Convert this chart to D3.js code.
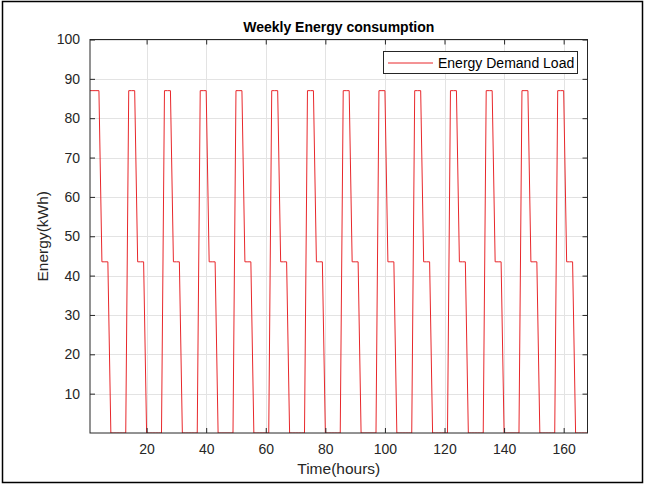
<!DOCTYPE html>
<html>
<head>
<meta charset="utf-8">
<script src="https://cdn.jsdelivr.net/npm/d3@7"></script>
<style>
  html, body { margin: 0; padding: 0; background: #fff; }
  svg { display: block; font-family: "Liberation Sans", Arial, Helvetica, sans-serif; }
</style>
</head>
<body>
<svg id="chart" width="646" height="486"></svg>
<script>
// ---- data ----
const title = "Weekly Energy consumption";
const xLabel = "Time(hours)";
const yLabel = "Energy(kWh)";
const seriesName = "Energy Demand Load";
const xTicks = [20, 40, 60, 80, 100, 120, 140, 160];
const yTicks = [10, 20, 30, 40, 50, 60, 70, 80, 90, 100];
// hourly load, hours 1..168
const load = [
  87, 87, 87, 87, 43.5, 43.5, 43.5, 0, 0, 0, 0, 0, 0,
  87, 87, 87, 43.5, 43.5, 43.5, 0, 0, 0, 0, 0, 0,
  87, 87, 87, 43.5, 43.5, 43.5, 0, 0, 0, 0, 0, 0,
  87, 87, 87, 43.5, 43.5, 43.5, 0, 0, 0, 0, 0, 0,
  87, 87, 87, 43.5, 43.5, 43.5, 0, 0, 0, 0, 0, 0,
  87, 87, 87, 43.5, 43.5, 43.5, 0, 0, 0, 0, 0, 0,
  87, 87, 87, 43.5, 43.5, 43.5, 0, 0, 0, 0, 0, 0,
  87, 87, 87, 43.5, 43.5, 43.5, 0, 0, 0, 0, 0, 0,
  87, 87, 87, 43.5, 43.5, 43.5, 0, 0, 0, 0, 0, 0,
  87, 87, 87, 43.5, 43.5, 43.5, 0, 0, 0, 0, 0, 0,
  87, 87, 87, 43.5, 43.5, 43.5, 0, 0, 0, 0, 0, 0,
  87, 87, 87, 43.5, 43.5, 43.5, 0, 0, 0, 0, 0, 0,
  87, 87, 87, 43.5, 43.5, 43.5, 0, 0, 0, 0, 0, 0,
  87, 87, 87, 43.5, 43.5, 43.5, 0, 0, 0, 0, 0
];
const xDomain = [1, 168];
const yDomain = [0, 100];

// ---- layout ----
const svg = d3.select("#chart");
const W = 646, H = 486;
const plot = { left: 90, right: 587.5, top: 39.5, bottom: 433 };
const axisColor = "#262626";

// outer frame
svg.append("rect").attr("x", 2.5).attr("y", 1.5).attr("width", 640).attr("height", 481)
  .attr("fill", "#fff").attr("stroke", "#000").attr("stroke-width", 1.5);

const x = d3.scaleLinear().domain(xDomain).range([plot.left, plot.right]);
const y = d3.scaleLinear().domain(yDomain).range([plot.bottom, plot.top]);

// grid
const grid = svg.append("g").attr("stroke", "#e3e3e3").attr("stroke-width", 1);
grid.selectAll("line.vx").data(xTicks).join("line")
  .attr("x1", d => Math.round(x(d)) + 0.5).attr("x2", d => Math.round(x(d)) + 0.5)
  .attr("y1", plot.top).attr("y2", plot.bottom);
grid.selectAll("line.hy").data(yTicks).join("line")
  .attr("y1", d => Math.round(y(d)) + 0.5).attr("y2", d => Math.round(y(d)) + 0.5)
  .attr("x1", plot.left).attr("x2", plot.right);

// data line (clipped)
svg.append("clipPath").attr("id", "clip").append("rect")
  .attr("x", plot.left).attr("y", plot.top)
  .attr("width", plot.right - plot.left).attr("height", plot.bottom - plot.top);

const line = d3.line().x((d, i) => x(i + 1)).y(d => y(d));
svg.append("path").datum(load)
  .attr("clip-path", "url(#clip)")
  .attr("d", line)
  .attr("fill", "none").attr("stroke", "#e8272b").attr("stroke-width", 1);

// axes
const xAxis = d3.axisBottom(x).tickValues(xTicks).tickSize(-5).tickPadding(11).tickSizeOuter(0);
const yAxis = d3.axisLeft(y).tickValues(yTicks).tickSize(-5).tickPadding(10).tickSizeOuter(0);
const xTop = d3.axisTop(x).tickValues(xTicks).tickSize(-5).tickFormat("").tickSizeOuter(0);
const yRight = d3.axisRight(y).tickValues(yTicks).tickSize(-5).tickFormat("").tickSizeOuter(0);

function styleAxis(g) {
  g.select(".domain").remove();
  g.selectAll(".tick line").attr("stroke", axisColor);
  g.selectAll(".tick text").attr("fill", axisColor)
    .style("font-size", "14px").style("font-family", '"Liberation Sans", Arial, sans-serif');
}
svg.append("g").attr("transform", `translate(0,${plot.bottom})`).call(xAxis).call(styleAxis);
svg.append("g").attr("transform", `translate(${plot.left},0)`).call(yAxis).call(styleAxis);
svg.append("g").attr("transform", `translate(0,${plot.top})`).call(xTop).call(styleAxis);
svg.append("g").attr("transform", `translate(${plot.right},0)`).call(yRight).call(styleAxis);

// box
svg.append("rect").attr("x", plot.left).attr("y", plot.top)
  .attr("width", plot.right - plot.left).attr("height", plot.bottom - plot.top)
  .attr("fill", "none").attr("stroke", axisColor).attr("stroke-width", 1);

// title & labels
svg.append("text").attr("x", (plot.left + plot.right) / 2).attr("y", 32)
  .attr("text-anchor", "middle").attr("font-weight", "bold").attr("font-size", 14)
  .attr("fill", "#000").text(title);
svg.append("text").attr("x", (plot.left + plot.right) / 2).attr("y", 474)
  .attr("text-anchor", "middle").attr("font-size", 15.5).attr("fill", axisColor).text(xLabel);
svg.append("text").attr("transform", `translate(48,${(plot.top + plot.bottom) / 2}) rotate(-90)`)
  .attr("text-anchor", "middle").attr("font-size", 15.5).attr("fill", axisColor).text(yLabel);

// legend
const lg = svg.append("g");
lg.append("rect").attr("x", 383.5).attr("y", 51.5).attr("width", 194).attr("height", 22)
  .attr("fill", "#fff").attr("stroke", axisColor).attr("stroke-width", 1);
lg.append("line").attr("x1", 388).attr("x2", 433).attr("y1", 63).attr("y2", 63)
  .attr("stroke", "#e8272b").attr("stroke-width", 1);
lg.append("text").attr("x", 438).attr("y", 67.5).attr("font-size", 14)
  .attr("fill", "#000").text(seriesName);
</script>
</body>
</html>
